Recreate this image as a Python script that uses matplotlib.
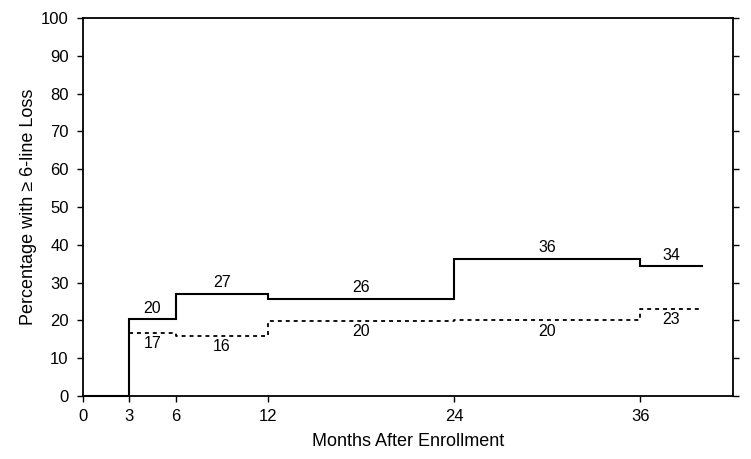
import matplotlib
matplotlib.use("Agg")
import matplotlib.pyplot as plt

plt.rcParams['font.family'] = ['Liberation Sans', 'DejaVu Sans']

# interval edges (months) and values in each interval
edges_solid = [0, 3, 6, 12, 24, 36, 40]
vals_solid = [0, 20.3, 27.1, 25.8, 36.3, 34.4]
labels_solid = [None, "20", "27", "26", "36", "34"]

edges_dash = [3, 6, 12, 24, 36, 40]
vals_dash = [16.7, 15.9, 19.9, 20.0, 23.1]
labels_dash = ["17", "16", "20", "20", "23"]

xticks = [0, 3, 6, 12, 24, 36]
yticks = list(range(0, 101, 10))

fig = plt.figure(figsize=(7.51, 4.59), dpi=100)
ax = fig.add_axes([0.110, 0.137, 0.866, 0.824])

ax.step(edges_solid, vals_solid + [vals_solid[-1]], where='post',
        color='black', lw=1.5, solid_joinstyle='miter', clip_on=False)
ax.step(edges_dash, vals_dash + [vals_dash[-1]], where='post',
        color='black', lw=1.3, linestyle=(0, (2.2, 2.2)))

for i, lab in enumerate(labels_solid):
    if lab is None:
        continue
    xm = (edges_solid[i] + edges_solid[i + 1]) / 2
    ax.annotate(lab, (xm, vals_solid[i]), xytext=(0, 2.5), textcoords='offset points',
                ha='center', va='bottom', fontsize=11.5)
for i, lab in enumerate(labels_dash):
    xm = (edges_dash[i] + edges_dash[i + 1]) / 2
    ax.annotate(lab, (xm, vals_dash[i]), xytext=(0, -2.5), textcoords='offset points',
                ha='center', va='top', fontsize=11.5)

ax.set_xlim(0, 42)
ax.set_ylim(0, 100)
ax.set_xticks(xticks)
ax.set_yticks(yticks)
ax.tick_params(axis='both', direction='out', length=4.5, width=1, labelsize=12)
ax.tick_params(axis='y', right=True, pad=5.5)
ax.tick_params(axis='x', pad=5)
for s in ax.spines.values():
    s.set_linewidth(1.3)

ax.set_xlabel("Months After Enrollment", fontsize=13, labelpad=6)
ax.set_ylabel("Percentage with \u2265 6-line Loss", fontsize=13, labelpad=3)

fig.savefig("out.png", dpi=100)
